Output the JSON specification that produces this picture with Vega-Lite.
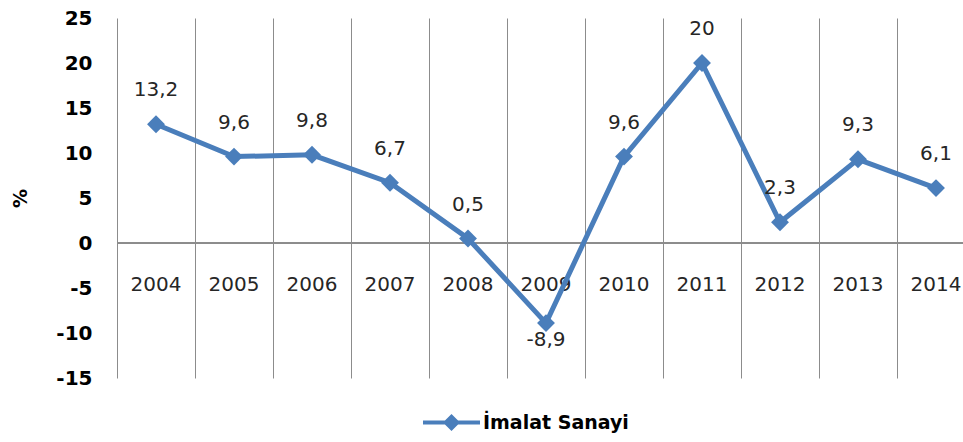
{
  "$schema": "https://vega.github.io/schema/vega-lite/v6.json",
  "description": "İmalat Sanayi büyüme hızı, 2004-2014 (%)",
  "width": 846,
  "height": 360,
  "autosize": {"type": "none"},
  "padding": {"left": 117, "top": 18, "right": 0, "bottom": 64},
  "background": "white",
  "config": {
    "view": {"stroke": null},
    "locale": {
      "number": {
        "decimal": ",",
        "thousands": ".",
        "grouping": [3],
        "currency": ["", " TL"],
        "minus": "-"
      }
    }
  },
  "data": {
    "values": [
      {"year": 2004, "value": 13.2},
      {"year": 2005, "value": 9.6},
      {"year": 2006, "value": 9.8},
      {"year": 2007, "value": 6.7},
      {"year": 2008, "value": 0.5},
      {"year": 2009, "value": -8.9},
      {"year": 2010, "value": 9.6},
      {"year": 2011, "value": 20},
      {"year": 2012, "value": 2.3},
      {"year": 2013, "value": 9.3},
      {"year": 2014, "value": 6.1}
    ]
  },
  "encoding": {
    "x": {
      "field": "year",
      "type": "quantitative",
      "scale": {"domain": [2003.5, 2014.346], "nice": false, "zero": false},
      "axis": {
        "values": [2003.5, 2004.5, 2005.5, 2006.5, 2007.5, 2008.5, 2009.5, 2010.5, 2011.5, 2012.5, 2013.5],
        "labels": false,
        "ticks": false,
        "domain": false,
        "title": null,
        "grid": true,
        "gridColor": "#8c8c8c",
        "gridWidth": 1,
        "gridOpacity": 1
      }
    },
    "y": {
      "field": "value",
      "type": "quantitative",
      "scale": {"domain": [-15, 25], "nice": false},
      "axis": {
        "values": [-15, -10, -5, 0, 5, 10, 15, 20, 25],
        "grid": false,
        "ticks": false,
        "tickSize": 0,
        "domain": false,
        "labelPadding": 25,
        "labelFont": "DejaVu Sans",
        "labelFontSize": 20,
        "labelFontWeight": "bold",
        "labelColor": "#000000",
        "title": "%",
        "titleFont": "DejaVu Sans",
        "titleFontSize": 19,
        "titleFontWeight": "bold",
        "titleColor": "#000000",
        "titleX": -97,
        "titleY": 180,
        "titleAngle": 270,
        "titleAlign": "center",
        "titleBaseline": "middle"
      }
    }
  },
  "layer": [
    {
      "mark": {"type": "rule", "color": "#8c8c8c", "strokeWidth": 1},
      "encoding": {"y": {"datum": 0}, "x": null}
    },
    {
      "mark": {
        "type": "text",
        "font": "DejaVu Sans",
        "fontSize": 20,
        "color": "#262626",
        "baseline": "middle",
        "align": "center"
      },
      "encoding": {
        "y": {"datum": -4.67},
        "text": {"field": "year", "type": "nominal"}
      }
    },
    {
      "mark": {"type": "line", "color": "#4A7EBB", "strokeWidth": 5},
      "encoding": {}
    },
    {
      "mark": {"type": "point", "shape": "diamond", "filled": true, "size": 320, "opacity": 1},
      "encoding": {
        "color": {
          "datum": "İmalat Sanayi",
          "type": "nominal",
          "scale": {"range": ["#4A7EBB"]},
          "legend": {
            "title": null,
            "orient": "none",
            "legendX": 306,
            "legendY": 376,
            "padding": 0,
            "symbolType": "M-1,-0.07H1V0.07H-1Z M0,-0.3L0.3,0L0,0.3L-0.3,0Z",
            "symbolSize": 3249,
            "symbolFillColor": "#4A7EBB",
            "symbolStrokeWidth": 0,
            "symbolOpacity": 1,
            "labelFont": "DejaVu Sans",
            "labelFontSize": 19,
            "labelFontWeight": "bold",
            "labelColor": "#000000",
            "labelOffset": 3
          }
        }
      }
    },
    {
      "transform": [{"filter": "datum.value >= 0"}],
      "mark": {
        "type": "text",
        "font": "DejaVu Sans",
        "fontSize": 20,
        "color": "#262626",
        "baseline": "middle",
        "align": "center",
        "dy": -34
      },
      "encoding": {
        "text": {"field": "value", "type": "quantitative", "format": ".1~f"}
      }
    },
    {
      "transform": [{"filter": "datum.value < 0"}],
      "mark": {
        "type": "text",
        "font": "DejaVu Sans",
        "fontSize": 20,
        "color": "#262626",
        "baseline": "middle",
        "align": "center",
        "dy": 17
      },
      "encoding": {
        "text": {"field": "value", "type": "quantitative", "format": ".1~f"}
      }
    }
  ]
}
